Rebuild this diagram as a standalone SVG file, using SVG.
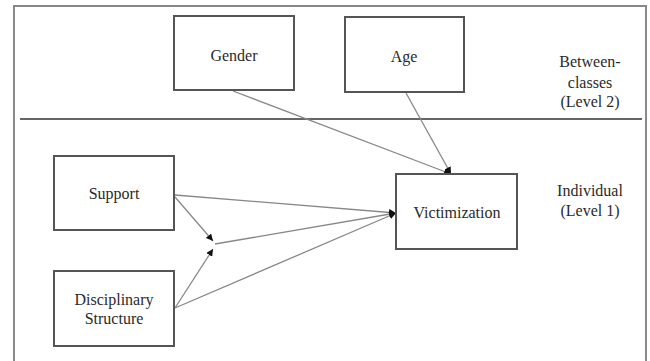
<svg xmlns="http://www.w3.org/2000/svg" width="650" height="361" viewBox="0 0 650 361">
<style>
.box{fill:#fff;stroke:#555;stroke-width:2}
text{font-size:16px;fill:#2a2a2a;text-anchor:middle}
.c{stroke:#888;stroke-width:1.3;fill:none;marker-end:url(#ah)}
</style>
<defs>
<marker id="ah" viewBox="0 0 10 10" refX="10" refY="5" markerWidth="7" markerHeight="7" markerUnits="userSpaceOnUse" orient="auto">
<path d="M0,0 L10,5 L0,10 z" fill="#111"/>
</marker>
</defs>
<rect width="650" height="361" fill="#fff"/>
<path d="M14,361 V6 H646 V361" fill="none" stroke="#888" stroke-width="2"/>
<line x1="20" y1="119" x2="642" y2="119" stroke="#666" stroke-width="2"/>
<g id="connectors">
<line class="c" x1="233" y1="91" x2="451" y2="174"/>
<line class="c" x1="406" y1="93" x2="451" y2="174"/>
<line class="c" x1="175" y1="195" x2="396" y2="213"/>
<line class="c" x1="175" y1="197" x2="213" y2="241"/>
<line class="c" x1="175" y1="308" x2="213" y2="249"/>
<line class="c" x1="215" y1="244" x2="396" y2="213"/>
<line class="c" x1="175" y1="308" x2="396" y2="213"/>
</g>
<g font-family="Liberation Serif, DejaVu Serif, serif">
<g id="gender"><rect class="box" x="174" y="16" width="120" height="74"/><text x="234" y="61">Gender</text></g>
<g id="age"><rect class="box" x="345" y="17" width="119" height="75"/><text x="404" y="62">Age</text></g>
<g id="support"><rect class="box" x="54" y="156" width="120" height="74"/><text x="114" y="199">Support</text></g>
<g id="disciplinary"><rect class="box" x="54" y="271" width="120" height="75"/><text x="114" y="305">Disciplinary</text><text x="114" y="324">Structure</text></g>
<g id="victimization"><rect class="box" x="396" y="174" width="121" height="75"/><text x="457" y="218">Victimization</text></g>
<g id="level2"><text x="590" y="67">Between-</text><text x="590" y="88">classes</text><text x="590" y="107">(Level 2)</text></g>
<g id="level1"><text x="590" y="196">Individual</text><text x="590" y="216">(Level 1)</text></g>
</g>
</svg>
